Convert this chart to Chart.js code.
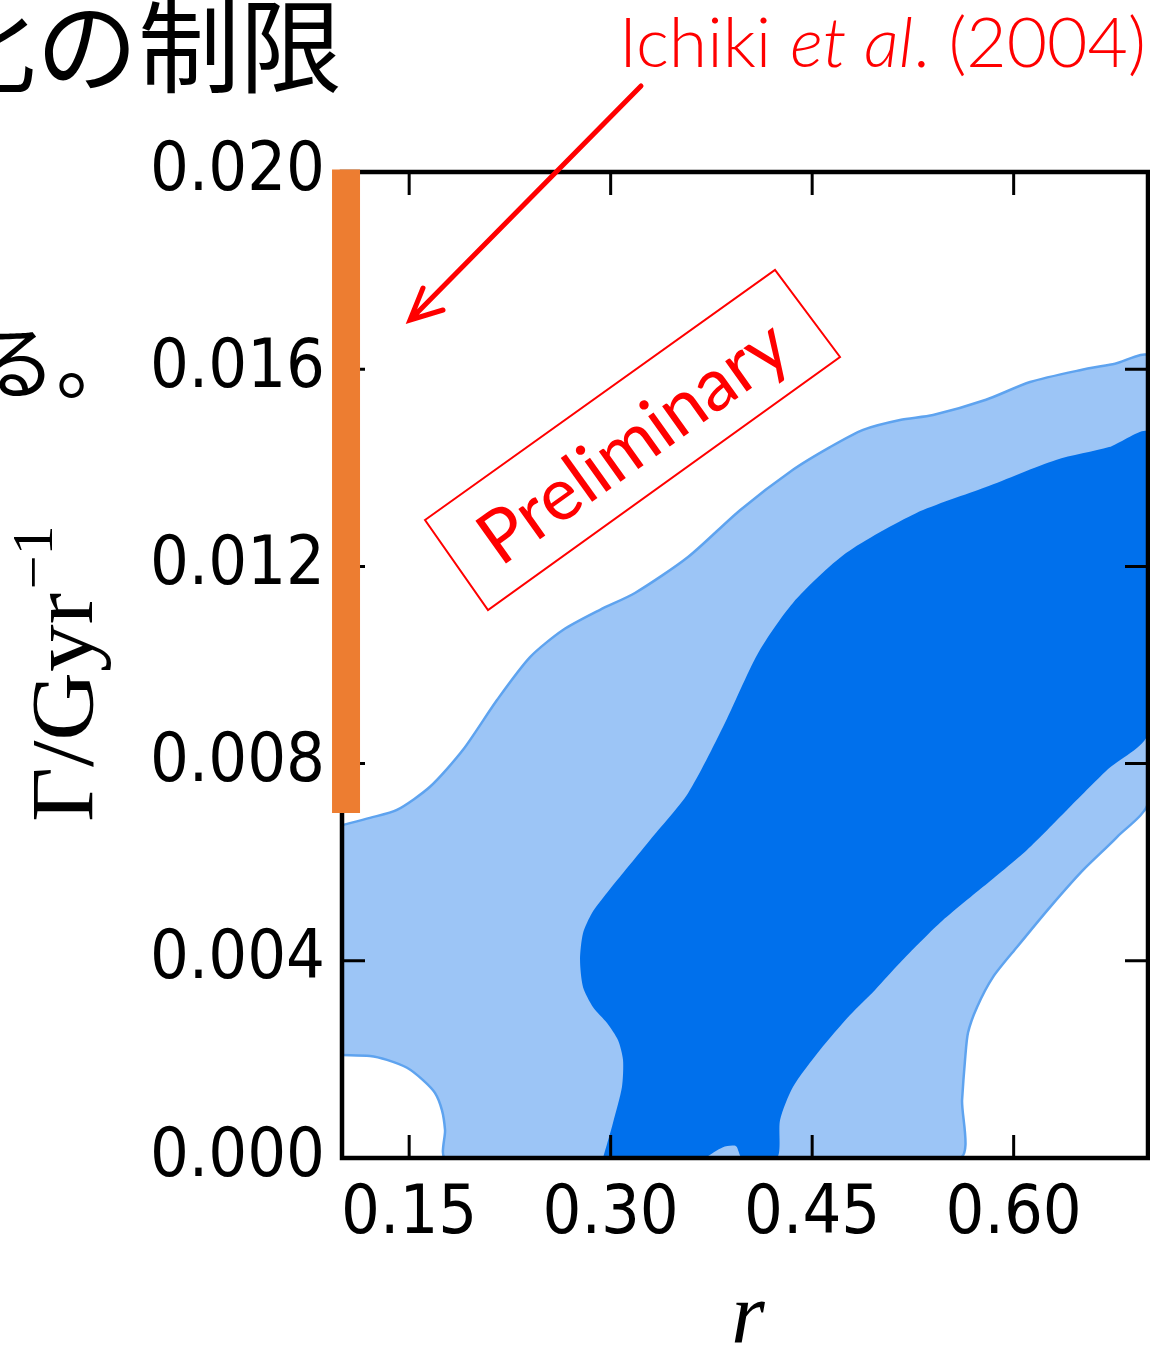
<!DOCTYPE html>
<html>
<head>
<meta charset="utf-8">
<title>r - Gamma contours</title>
<script src="https://cdn.jsdelivr.net/npm/chart.js@4.4.1/dist/chart.umd.min.js"></script>
<style>
  html, body { margin: 0; padding: 0; background: #fff; overflow: hidden; }
  #wrap { width: 1150px; height: 1348px; position: relative; }
</style>
</head>
<body>
<div id="wrap"><canvas id="chart"></canvas></div>
<script>
// Axis ticks
const xTicks = [0.15, 0.30, 0.45, 0.60];
const yTicks = [0.000, 0.004, 0.008, 0.012, 0.016, 0.020];

// Outer (light) contour: upper edge left->right, down the right side,
// along the bottom, then round the empty pocket in the lower-left corner
const outerR = [0.100, 0.1208, 0.1409, 0.1655, 0.1901, 0.2154, 0.2400, 0.2645, 0.2921, 0.3181,
  0.3576, 0.3963, 0.4357, 0.4633, 0.4879, 0.5154, 0.5400, 0.5794, 0.6122, 0.6494, 0.6754, 0.700,
  0.700, 0.6769, 0.6516, 0.6271, 0.6025, 0.5846, 0.5727, 0.5660, 0.5638, 0.5616, 0.5593,
  0.1774, 0.1767, 0.1744, 0.1692, 0.1603, 0.1484, 0.1335, 0.1208, 0.100];
const outerG = [0.00675, 0.00690, 0.00706, 0.00753, 0.00828, 0.00929, 0.01016, 0.01071, 0.01112, 0.01146,
  0.01219, 0.01314, 0.01396, 0.01442, 0.01477, 0.01497, 0.01507, 0.01538, 0.01574, 0.01598, 0.01611, 0.01625,
  0.00722, 0.00651, 0.00584, 0.00509, 0.00428, 0.00367, 0.00306, 0.00254, 0.00199, 0.00118, 0.0,
  0.0, 0.00057, 0.00097, 0.00132, 0.00158, 0.00183, 0.00199, 0.00207, 0.00209];

// Inner (dark) contour, clockwise from its lower-left foot
const innerR = [0.2943, 0.3017, 0.3084, 0.3092, 0.3055, 0.2973, 0.2869, 0.2794, 0.2772, 0.2794,
  0.2861, 0.2973, 0.3092, 0.3293, 0.3576, 0.3836, 0.4097, 0.4357, 0.4752, 0.5273, 0.5794, 0.6315,
  0.6710, 0.700, 0.700, 0.6695, 0.6397, 0.6099, 0.5772, 0.5452, 0.5154, 0.4968, 0.4782, 0.4558,
  0.4357, 0.4261, 0.4238, 0.3978, 0.3933, 0.3836, 0.3702];
const innerG = [0.0, 0.00071, 0.00144, 0.00199, 0.00239, 0.00274, 0.00306, 0.00347, 0.00402, 0.00456,
  0.00497, 0.00538, 0.00578, 0.00645, 0.00740, 0.00874, 0.01024, 0.01126, 0.01227, 0.01308, 0.01361, 0.01416,
  0.01442, 0.01471, 0.00862, 0.00787, 0.00706, 0.00625, 0.00550, 0.00477, 0.00396, 0.00341, 0.00290, 0.00219,
  0.00144, 0.00077, 0.0, 0.0, 0.00024, 0.00022, 0.0];

// Ichiki et al. (2004) allowed range, drawn on the left edge
const ichikiR = [0.103, 0.103];
const ichikiG = [0.00700, 0.02005];

const TICK_FONT = "'DejaVu Sans Condensed', 'DejaVu Sans', sans-serif";
const LIGHT = '#9cc5f6';
const DARK = '#0070ec';
const EDGE = '#5ea3ef';
const RED = '#ff0000';

function toPoints(xs, ys) {
  return xs.map((x, i) => ({ x: x, y: ys[i] }));
}

// Box frame and inward ticks, painted just before the orange bar
const framePlugin = {
  id: 'frame',
  beforeDatasetDraw(chart, args) {
    if (args.index !== 2) return;
    const ctx = chart.ctx;
    const a = chart.chartArea;
    const xs = chart.scales.x;
    const ys = chart.scales.y;
    const len = 23;
    ctx.save();
    ctx.strokeStyle = '#000';
    ctx.lineWidth = 3;
    xTicks.forEach(v => {
      const px = xs.getPixelForValue(v);
      ctx.beginPath();
      ctx.moveTo(px, a.bottom); ctx.lineTo(px, a.bottom - len);
      ctx.moveTo(px, a.top); ctx.lineTo(px, a.top + len);
      ctx.stroke();
    });
    yTicks.forEach(v => {
      const py = ys.getPixelForValue(v);
      ctx.beginPath();
      ctx.moveTo(a.left, py); ctx.lineTo(a.left + len, py);
      ctx.moveTo(a.right, py); ctx.lineTo(a.right - len, py);
      ctx.stroke();
    });
    ctx.lineWidth = 4.5;
    ctx.strokeRect(a.left, a.top, a.right - a.left, a.bottom - a.top);
    ctx.restore();
  }
};

// Slide text, axis titles and the red annotations
const textPlugin = {
  id: 'slideText',
  afterDraw(chart) {
    const ctx = chart.ctx;
    ctx.save();

    // fragments of the slide text around the figure
    ctx.fillStyle = '#000';
    ctx.textBaseline = 'alphabetic';
    ctx.textAlign = 'left';
    ctx.font = "102px 'Noto Sans CJK JP'";
    ctx.fillText('化の制限', -66, 85);
    ctx.font = "80px 'Noto Sans CJK JP'";
    ctx.fillText('る。', -24, 392);

    // y axis title: Gamma / Gyr^-1
    ctx.save();
    ctx.translate(92, 822);
    ctx.rotate(-Math.PI / 2);
    ctx.scale(1.08, 1);
    ctx.font = "88px 'Liberation Serif', serif";
    ctx.fillText('Γ/Gyr', 0, 0);
    const w = ctx.measureText('Γ/Gyr').width;
    ctx.font = "56px 'Liberation Serif', serif";
    ctx.fillText('\u22121', w + 3, -40);
    ctx.restore();

    // x axis title
    ctx.font = "italic 86px 'Liberation Serif', serif";
    ctx.textAlign = 'center';
    ctx.fillText('r', 748, 1343);

    // citation
    ctx.fillStyle = RED;
    ctx.textAlign = 'left';
    const parts = [['Ichiki ', ''], ['et al', 'italic '], ['. (2004)', '']];
    const fam = "'Lato', 'Open Sans', sans-serif";
    let total = 0;
    parts.forEach(p => { ctx.font = p[1] + '300 100px ' + fam; total += ctx.measureText(p[0]).width; });
    const size = 100 * 527 / total;
    let cx = 619;
    parts.forEach(p => {
      ctx.font = p[1] + '300 ' + size + 'px ' + fam;
      ctx.fillText(p[0], cx, 67);
      cx += ctx.measureText(p[0]).width;
    });

    // arrow pointing at the orange bar
    ctx.strokeStyle = RED;
    ctx.lineWidth = 5;
    ctx.lineCap = 'round';
    ctx.beginPath();
    ctx.moveTo(641, 86); ctx.lineTo(412, 318);
    ctx.moveTo(423, 288); ctx.lineTo(410, 320); ctx.lineTo(443, 310);
    ctx.stroke();

    // "Preliminary" stamp
    ctx.lineWidth = 2;
    ctx.lineCap = 'butt';
    ctx.beginPath();
    ctx.moveTo(425, 520); ctx.lineTo(775, 270); ctx.lineTo(840, 357); ctx.lineTo(488, 610);
    ctx.closePath();
    ctx.stroke();
    ctx.save();
    ctx.translate(634, 443);
    ctx.rotate(Math.atan2(-250, 350));
    ctx.font = "100px " + fam;
    const pw = ctx.measureText('Preliminary').width;
    ctx.font = (100 * 362 / pw) + "px " + fam;
    ctx.textAlign = 'center';
    ctx.textBaseline = 'middle';
    ctx.fillText('Preliminary', 0, 0);
    ctx.restore();

    ctx.restore();
  }
};

new Chart(document.getElementById('chart'), {
  type: 'scatter',
  data: {
    datasets: [
      {
        label: 'outer',
        data: toPoints(outerR, outerG),
        showLine: true,
        fill: 'shape',
        backgroundColor: LIGHT,
        borderColor: EDGE,
        borderWidth: 2.5,
        pointRadius: 0,
        tension: 0.25,
        order: 2
      },
      {
        label: 'inner',
        data: toPoints(innerR, innerG),
        showLine: true,
        fill: 'shape',
        backgroundColor: DARK,
        borderColor: DARK,
        borderWidth: 0,
        pointRadius: 0,
        tension: 0.25,
        order: 1
      },
      {
        label: 'Ichiki et al. (2004)',
        data: toPoints(ichikiR, ichikiG),
        showLine: true,
        fill: false,
        borderColor: '#ed7d31',
        borderWidth: 28,
        borderCapStyle: 'butt',
        pointRadius: 0,
        clip: false,
        order: 0
      }
    ]
  },
  options: {
    responsive: true,
    maintainAspectRatio: false,
    animation: false,
    devicePixelRatio: 1,
    layout: { padding: { top: 172, right: 2, left: 0, bottom: 0 } },
    plugins: {
      legend: { display: false },
      tooltip: { enabled: false }
    },
    scales: {
      x: {
        type: 'linear',
        min: 0.1,
        max: 0.7,
        afterBuildTicks: s => { s.ticks = xTicks.map(v => ({ value: v })); },
        afterFit: s => { s.height = 190; },
        grid: { display: false, drawTicks: false },
        border: { display: false },
        ticks: {
          color: '#000',
          padding: 17,
          maxRotation: 0,
          autoSkip: false,
          font: { family: TICK_FONT, size: 68, lineHeight: 1.2 },
          callback: v => v.toFixed(2)
        }
      },
      y: {
        type: 'linear',
        min: 0,
        max: 0.02,
        afterBuildTicks: s => { s.ticks = yTicks.map(v => ({ value: v })); },
        afterFit: s => { s.width = 342; },
        grid: { display: false, drawTicks: false },
        border: { display: false },
        ticks: {
          color: '#000',
          padding: 17,
          autoSkip: false,
          font: { family: TICK_FONT, size: 68, lineHeight: 1.2 },
          callback: v => v.toFixed(3)
        }
      }
    }
  },
  plugins: [framePlugin, textPlugin]
});
</script>
</body>
</html>
